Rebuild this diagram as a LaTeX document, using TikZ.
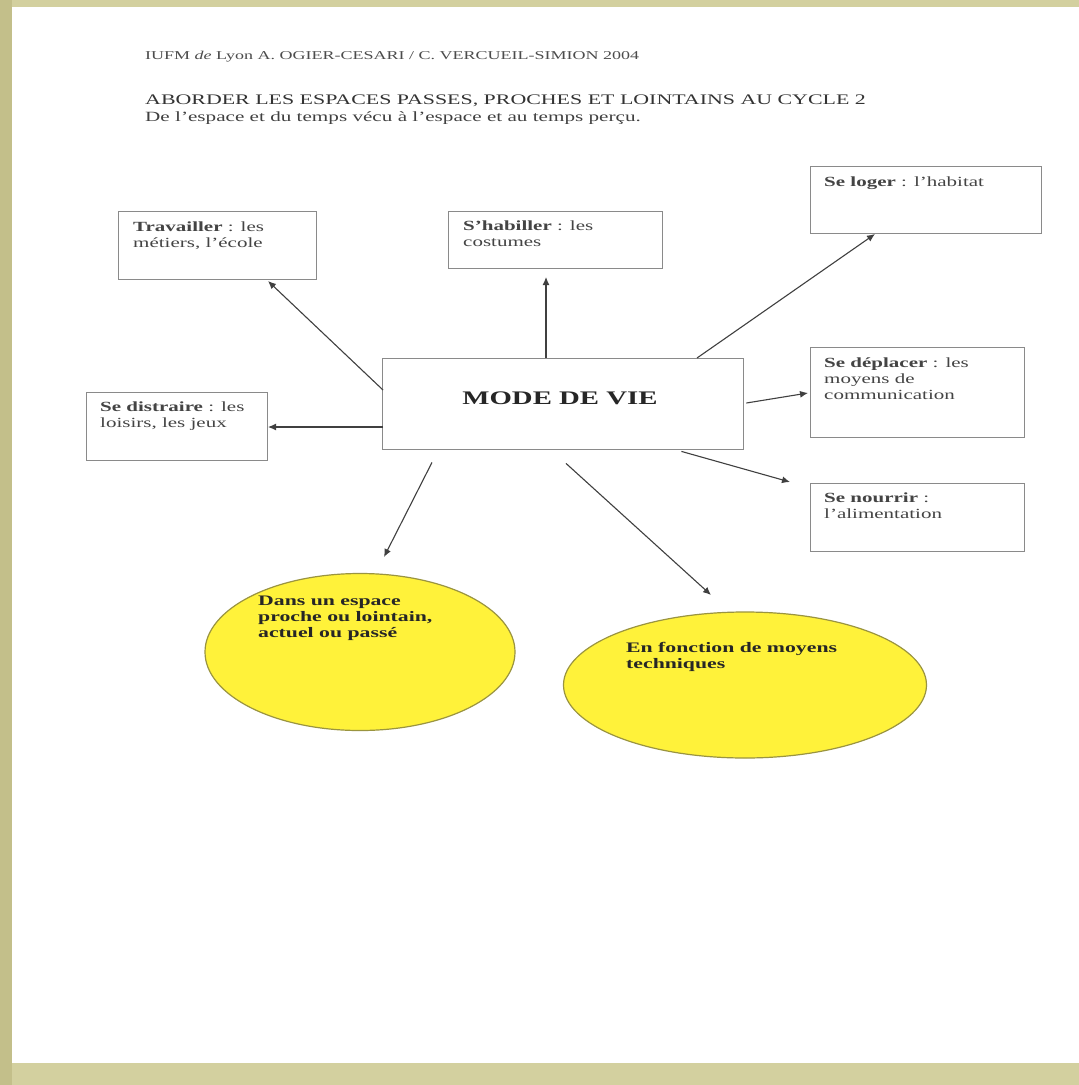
\documentclass[tikz,border=0pt]{standalone}
\usepackage{fontspec}
\setmainfont{Liberation Serif}[FakeStretch=1.5]
\usetikzlibrary{shapes.geometric,arrows.meta,calc}
\definecolor{khaki}{HTML}{D3D09F}
\definecolor{khakidark}{HTML}{C3BF8A}
\definecolor{boxline}{HTML}{8A8A8A}
\definecolor{txt}{HTML}{444444}
\definecolor{ellyellow}{HTML}{FFF23A}
\definecolor{ellline}{HTML}{9A9440}
\begin{document}
\begin{tikzpicture}[x=1pt,y=-1pt,
  topicbox/.style={draw=boxline,line width=1.4pt,fill=white,anchor=north west,inner sep=0pt},
  boxtext/.style={anchor=north west,align=left,font=\fontsize{14}{16}\selectfont,text=txt,inner sep=0pt},
  ovaltext/.style={anchor=north west,align=left,font=\bfseries\fontsize{14.5}{16}\selectfont,text=black!85,inner sep=0pt},
  arr/.style={draw=black!75,line width=1.1pt,-{Latex[length=8pt,width=7pt]}},
  oval/.style={ellipse,draw=ellline,line width=1.2pt,fill=ellyellow,inner sep=0pt}]
\useasboundingbox (0,0) rectangle (1079,1085);
% background and page
\fill[khaki] (0,0) rectangle (1079,1085);
\fill[khakidark] (0,0) rectangle (12,1085);
\fill[white] (12,7) rectangle (1079,1063);
% headers
\node[anchor=west,font=\fontsize{12}{13}\selectfont,text=black!70,inner sep=0pt] (h1) at (145,57)
  {IUFM \textit{de} Lyon A. OGIER-CESARI / C. VERCUEIL-SIMION 2004};
\node[anchor=west,font=\fontsize{14.6}{15}\selectfont,text=black!80,inner sep=0pt] (h2) at (145,101)
  {ABORDER LES ESPACES PASSES, PROCHES ET LOINTAINS AU CYCLE 2};
\node[anchor=west,font=\fontsize{14.1}{15}\selectfont,text=black!75,inner sep=0pt] (h3) at (145,118)
  {De l'espace et du temps vécu à l'espace et au temps perçu.};
% boxes
\node[topicbox,minimum width=198pt,minimum height=68pt] (trav) at (118,211) {};
\node[boxtext] at (133,222) {\textbf{Travailler} : les\\métiers, l'école};
\node[topicbox,minimum width=214pt,minimum height=57pt] (hab) at (448,211) {};
\node[boxtext] at (463,221) {\textbf{S'habiller} : les\\costumes};
\node[topicbox,minimum width=231pt,minimum height=67pt] (log) at (810,166) {};
\node[boxtext] at (824,177) {\textbf{Se loger} : l'habitat};
\node[topicbox,minimum width=361pt,minimum height=91pt] (mdv) at (382,358) {};
\node[font=\bfseries\fontsize{19.2}{21}\selectfont,text=black!85,inner sep=0pt] at (560,398) {MODE DE VIE};
\node[topicbox,minimum width=181pt,minimum height=68pt] (dis) at (86,392) {};
\node[boxtext] at (100,402) {\textbf{Se distraire} : les\\loisirs, les jeux};
\node[topicbox,minimum width=214pt,minimum height=90pt] (dep) at (810,347) {};
\node[boxtext] at (824,358) {\textbf{Se déplacer} : les\\moyens de\\communication};
\node[topicbox,minimum width=214pt,minimum height=68pt] (nour) at (810,483) {};
\node[boxtext] at (824,493) {\textbf{Se nourrir} :\\l'alimentation};
% ellipses
\node[oval,minimum width=310pt,minimum height=157pt] (e1) at (360,652) {};
\node[ovaltext] at (258,596) {Dans un espace\\proche ou lointain,\\actuel ou passé};
\node[oval,minimum width=363pt,minimum height=146pt] (e2) at (745,685) {};
\node[ovaltext] at (626,642) {En fonction de moyens\\techniques};
% arrow end points
\coordinate (tTrav) at (268,281);
\coordinate (tHab) at (546,277);
\coordinate (tLog) at (875,234);
\coordinate (tDis) at (268,427);
\coordinate (tDep) at (808,393);
\coordinate (tNour) at (790,482);
\coordinate (tE1) at (384,557);
\coordinate (tE2) at (711,595);
% connectors from MODE DE VIE
\draw[arr] ($(mdv.north west)+(1,32)$) -- (tTrav);
\draw[arr] ($(mdv.north west)+(164,0)$) -- (tHab);
\draw[arr] ($(mdv.north west)+(315,0)$) -- (tLog);
\draw[arr] ($(mdv.north west)+(1,69)$) -- (tDis);
\draw[arr] ($(mdv.north east)+(2,45)$) -- (tDep);
\draw[arr] ($(mdv.south east)+(-63,1)$) -- (tNour);
\draw[arr] ($(mdv.south west)+(50,12)$) -- (tE1);
\draw[arr] ($(mdv.south west)+(184,13)$) -- (tE2);
\end{tikzpicture}
\end{document}
